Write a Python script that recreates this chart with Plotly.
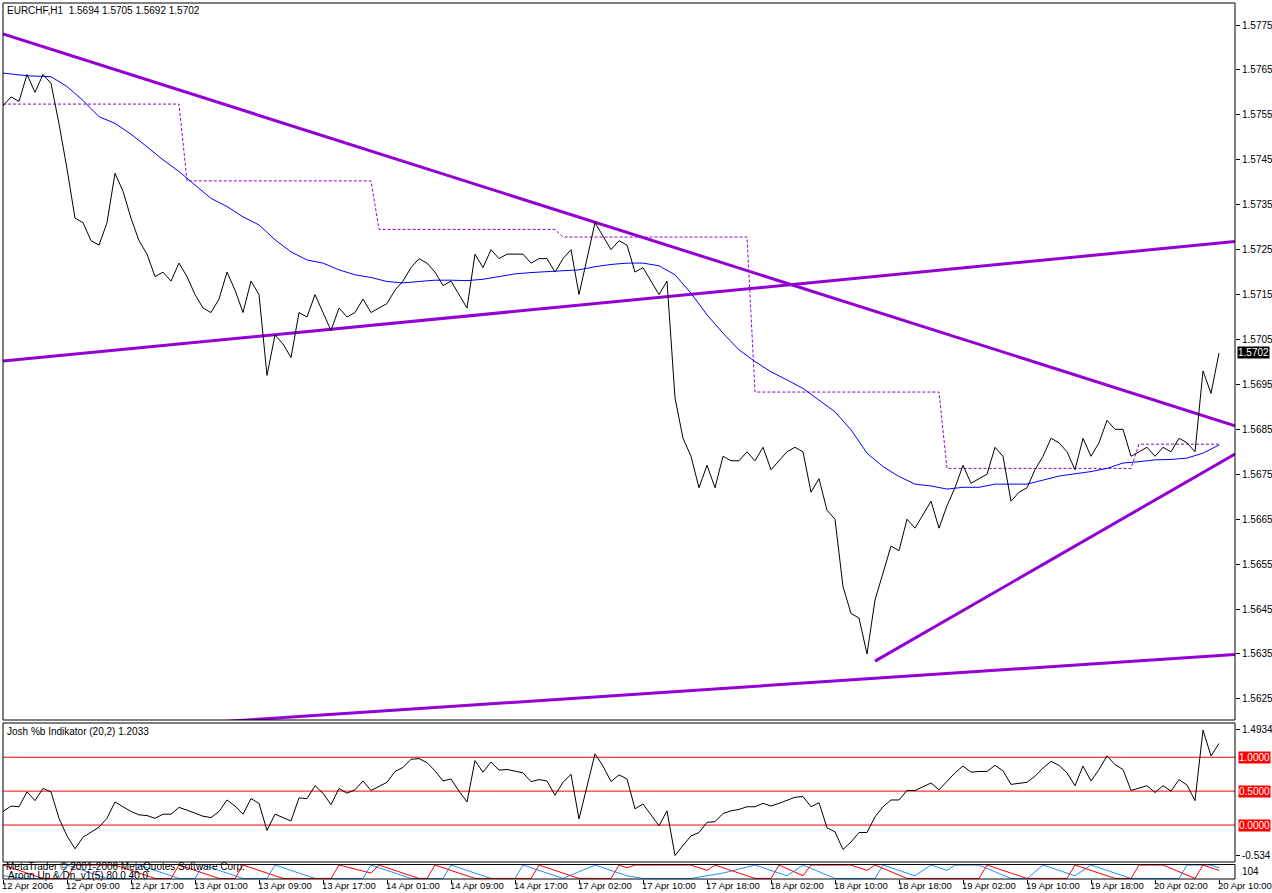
import plotly.graph_objects as go

# ---------------- data ----------------
close = [1.5757, 1.5759, 1.5758, 1.5764, 1.5760, 1.5764, 1.5762, 1.5753, 1.5743, 1.5732,
         1.5731, 1.5727, 1.5726, 1.5731, 1.5742, 1.5738, 1.5732, 1.5727, 1.5724, 1.5719,
         1.5720, 1.5718, 1.5722, 1.5719, 1.5715, 1.5712, 1.5711, 1.5714, 1.5720, 1.5716,
         1.5711, 1.5718, 1.5715, 1.5697, 1.5706, 1.5704, 1.5701, 1.5711, 1.5710, 1.5715,
         1.5711, 1.5707, 1.5712, 1.5710, 1.5711, 1.5714, 1.5711, 1.5712, 1.5713, 1.5716,
         1.5718, 1.5721, 1.5723, 1.5722, 1.5720, 1.5717, 1.5718, 1.5715, 1.5712, 1.5724,
         1.5721, 1.5725, 1.5723, 1.5724, 1.5724, 1.5724, 1.5722, 1.5723, 1.5723, 1.5720,
         1.5723, 1.5725, 1.5715, 1.5723, 1.5731, 1.5728, 1.5725, 1.5727, 1.5726, 1.5720,
         1.5721, 1.5718, 1.5715, 1.5718, 1.5692, 1.5683, 1.5679, 1.5672, 1.5677, 1.5672,
         1.5679, 1.5678, 1.5678, 1.5680, 1.5678, 1.5681, 1.5676, 1.5678, 1.5680, 1.5681,
         1.5680, 1.5671, 1.5674, 1.5667, 1.5665, 1.5650, 1.5644, 1.5643, 1.5635, 1.5647,
         1.5653, 1.5659, 1.5658, 1.5665, 1.5663, 1.5666, 1.5669, 1.5663, 1.5668, 1.5672,
         1.5677, 1.5673, 1.5674, 1.5675, 1.5681, 1.5679, 1.5669, 1.5671, 1.5672, 1.5676,
         1.5679, 1.5683, 1.5682, 1.5680, 1.5676, 1.5683, 1.5679, 1.5682, 1.5687, 1.5685,
         1.5685, 1.5679, 1.5680, 1.5681, 1.5679, 1.5681, 1.5680, 1.5683, 1.5682, 1.5680,
         1.5698, 1.5693, 1.5702]

ma_idx = [0, 3, 6] + list(range(8, 153, 2))
ma_val = [1.57643, 1.57637, 1.57635, 1.57613, 1.57582, 1.57546, 1.57531, 1.57507, 1.57479, 1.57450,
          1.57424, 1.57394, 1.57364, 1.57346, 1.57323, 1.57305, 1.57272, 1.57245, 1.57227, 1.57220,
          1.57205, 1.57194, 1.57188, 1.57179, 1.57176, 1.57179, 1.57182, 1.57182, 1.57181, 1.57184,
          1.57190, 1.57196, 1.57199, 1.57201, 1.57204, 1.57205, 1.57212, 1.57217, 1.57220, 1.57220,
          1.57214, 1.57194, 1.57153, 1.57105, 1.57064, 1.57027, 1.57001, 1.56978, 1.56960, 1.56941,
          1.56915, 1.56889, 1.56849, 1.56797, 1.56767, 1.56745, 1.56728, 1.56724, 1.56717, 1.56721,
          1.56721, 1.56728, 1.56728, 1.56728, 1.56737, 1.56746, 1.56751, 1.56756, 1.56763, 1.56775,
          1.56778, 1.56782, 1.56783, 1.56786, 1.56797, 1.56815]

level_start = [0, 23, 47, 70, 94, 118, 142]
level_end = [22, 46, 69, 93, 117, 141, 152]
level_val = [1.57574, 1.57403, 1.57295, 1.57278, 1.56933, 1.56763, 1.56817]

trend_x = [[0, 154], [0, 154], [0, 154], [109, 154]]
trend_y = [[1.57730, 1.56858], [1.57002, 1.57268], [1.56167, 1.56349], [1.56334, 1.56795]]

pctb = [0.20, 0.28, 0.27, 0.49, 0.36, 0.54, 0.49, 0.10, -0.16, -0.35,
        -0.18, -0.11, -0.03, 0.10, 0.34, 0.27, 0.20, 0.15, 0.14, 0.10,
        0.16, 0.16, 0.26, 0.22, 0.17, 0.13, 0.11, 0.20, 0.37, 0.28,
        0.16, 0.39, 0.32, -0.08, 0.16, 0.11, 0.06, 0.40, 0.39, 0.58,
        0.47, 0.30, 0.54, 0.47, 0.52, 0.65, 0.51, 0.57, 0.63, 0.79,
        0.85, 0.97, 0.98, 0.92, 0.80, 0.65, 0.68, 0.50, 0.34, 0.95,
        0.78, 0.93, 0.81, 0.82, 0.79, 0.77, 0.64, 0.67, 0.65, 0.44,
        0.63, 0.75, 0.09, 0.57, 1.05, 0.87, 0.64, 0.74, 0.68, 0.24,
        0.31, 0.15, -0.01, 0.21, -0.45, -0.30, -0.16, -0.11, 0.04, 0.05,
        0.17, 0.21, 0.23, 0.27, 0.27, 0.32, 0.28, 0.32, 0.37, 0.41,
        0.42, 0.27, 0.33, -0.04, -0.10, -0.36, -0.25, -0.11, -0.11, 0.12,
        0.27, 0.37, 0.37, 0.51, 0.51, 0.57, 0.62, 0.52, 0.64, 0.77,
        0.87, 0.78, 0.79, 0.79, 0.88, 0.80, 0.60, 0.62, 0.63, 0.72,
        0.84, 0.94, 0.88, 0.77, 0.58, 0.87, 0.65, 0.82, 1.02, 0.89,
        0.82, 0.51, 0.54, 0.58, 0.48, 0.58, 0.50, 0.67, 0.59, 0.36,
        1.40, 1.02, 1.2033]
pctb_levels = [1.0, 0.5, 0.0]
pctb_level_text = ["1.0000", "0.5000", "0.0000"]

aroon_dn_x = [0, 5, 8, 9, 14, 19, 21, 22, 27, 29, 30, 35, 41, 42, 46, 47, 52, 53, 54, 59, 66, 67, 72, 76,
              77, 78, 79, 86, 88, 89, 94, 96, 97, 100, 101, 106, 108, 109, 113, 122, 123, 128, 133,
              134, 139, 141, 142, 145, 149, 150, 152]
aroon_dn_y = [100, 0, 0, 100, 100, 0, 0, 100, 0, 0, 100, 0, 0, 100, 40, 100, 0, 0, 100, 0, 0, 100, 0, 0,
              100, 80, 100, 100, 60, 100, 0, 0, 100, 20, 100, 100, 60, 100, 0, 0, 100, 0, 0,
              100, 0, 0, 100, 100, 0, 100, 60]
aroon_up_x = [0, 3, 7, 8, 13, 16, 17, 22, 24, 25, 30, 33, 34, 39, 45, 46, 51, 55, 56, 61, 64, 65, 70, 74,
              78, 80, 86, 88, 90, 94, 98, 100, 104, 109, 110, 114, 116, 118, 119, 122, 126, 128, 130,
              134, 136, 139, 141, 147, 148, 151, 152]
aroon_up_y = [20, 0, 0, 100, 0, 0, 100, 0, 0, 100, 0, 0, 100, 0, 0, 100, 0, 0, 100, 0, 0, 100, 0, 100,
              20, 0, 0, 20, 40, 100, 20, 100, 0, 0, 100, 20, 100, 60, 100, 100, 0, 0, 100,
              20, 100, 40, 0, 0, 100, 100, 80]

price_ticks = [1.5625, 1.5635, 1.5645, 1.5655, 1.5665, 1.5675, 1.5685, 1.5695, 1.5705, 1.5715,
               1.5725, 1.5735, 1.5745, 1.5755, 1.5765, 1.5775]
time_labels = ["12 Apr 2006", "12 Apr 09:00", "12 Apr 17:00", "13 Apr 01:00", "13 Apr 09:00",
               "13 Apr 17:00", "14 Apr 01:00", "14 Apr 09:00", "14 Apr 17:00", "17 Apr 02:00",
               "17 Apr 10:00", "17 Apr 18:00", "18 Apr 02:00", "18 Apr 10:00", "18 Apr 18:00",
               "19 Apr 02:00", "19 Apr 10:00", "19 Apr 18:00", "20 Apr 02:00", "20 Apr 10:00"]
time_label_bars = list(range(0, 153, 8))

title_text = "EURCHF,H1  1.5694 1.5705 1.5692 1.5702"
ind_title = "Josh %b Indikator (20,2) 1.2033"
aroon_title = "Aroon Up & Dn_v1(5) 80.0 40.0"
copyright_text = "MetaTrader © 2001-2006 MetaQuotes Software Corp."
last_price = 1.5702

# ---------------- figure ----------------
W, H = 1272, 893
FONT = "Liberation Sans, Arial, sans-serif"
VIOLET = "#9400D3"


def px(v):
    return v / W


def py(v):
    return 1 - v / H


bars = list(range(len(close)))
level_series = []
for i in bars:
    for s, e, v in zip(level_start, level_end, level_val):
        if s <= i <= e:
            level_series.append(v)
            break

fig = go.Figure()
for tx, ty in zip(trend_x, trend_y):
    fig.add_trace(go.Scatter(x=tx, y=ty, mode="lines", line=dict(color=VIOLET, width=3),
                             xaxis="x", yaxis="y", hoverinfo="skip"))
fig.add_trace(go.Scatter(x=bars, y=level_series, mode="lines",
                         line=dict(color=VIOLET, width=1, dash="3px,2px"), xaxis="x", yaxis="y"))
fig.add_trace(go.Scatter(x=ma_idx, y=ma_val, mode="lines", line=dict(color="#0000FF", width=1),
                         xaxis="x", yaxis="y"))
fig.add_trace(go.Scatter(x=bars, y=close, mode="lines", line=dict(color="#000000", width=1),
                         xaxis="x", yaxis="y"))

fig.add_trace(go.Scatter(x=bars, y=pctb, mode="lines", line=dict(color="#000000", width=1),
                         xaxis="x2", yaxis="y2"))

fig.add_trace(go.Scatter(x=aroon_up_x, y=aroon_up_y, mode="lines", line=dict(color="#1E90FF", width=1),
                         xaxis="x3", yaxis="y3"))
fig.add_trace(go.Scatter(x=aroon_dn_x, y=aroon_dn_y, mode="lines", line=dict(color="#FF0000", width=1),
                         xaxis="x3", yaxis="y3"))

XDOM = [px(3), px(1235)]
XR = [0, 154]
axis_common = dict(showgrid=False, zeroline=False, showline=False)
tickfont = dict(family=FONT, size=10, color="black")

fig.update_layout(
    width=W, height=H, margin=dict(l=0, r=0, t=0, b=0), autosize=False,
    paper_bgcolor="white", plot_bgcolor="white", showlegend=False,
    xaxis=dict(domain=XDOM, range=XR, anchor="y", showticklabels=False, ticks="", **axis_common),
    yaxis=dict(domain=[py(720), py(3)], range=[1.56203, 1.57799], anchor="x", side="right",
               tickvals=price_ticks, ticktext=["%.4f" % t for t in price_ticks],
               ticks="outside", ticklen=4, tickcolor="black", tickfont=tickfont, **axis_common),
    xaxis2=dict(domain=XDOM, range=XR, anchor="y2", showticklabels=False, ticks="", **axis_common),
    yaxis2=dict(domain=[py(862), py(723)], range=[-0.545, 1.505], anchor="x2", side="right",
                tickvals=[1.416, -0.456], ticktext=["1.4934", "-0.534"],
                ticks="outside", ticklen=4, tickcolor="black", tickfont=tickfont, **axis_common),
    xaxis3=dict(domain=XDOM, range=XR, anchor="y3", showticklabels=False,
                tickvals=time_label_bars, ticks="outside", ticklen=4, tickcolor="black", **axis_common),
    yaxis3=dict(domain=[py(879), py(864.5)], range=[-4, 104], anchor="x3", side="right",
                showticklabels=False, ticks="", **axis_common),
)

shapes = []
for (y0, y1) in [(3, 720), (723, 862), (864.5, 879)]:
    shapes.append(dict(type="rect", xref="paper", yref="paper", x0=px(3), x1=px(1235),
                       y0=py(y1), y1=py(y0), line=dict(color="black", width=1), layer="above"))
for lv in pctb_levels:
    shapes.append(dict(type="line", xref="paper", yref="y2", x0=px(3), x1=px(1235), y0=lv, y1=lv,
                       line=dict(color="#FF0000", width=1), layer="below"))
fig.update_layout(shapes=shapes)

ann = []
ann.append(dict(text=title_text, xref="paper", yref="paper", x=px(5), y=py(3), xanchor="left",
                yanchor="top", showarrow=False, font=dict(family=FONT, size=10, color="black")))
ann.append(dict(text=ind_title, xref="paper", yref="paper", x=px(5), y=py(724), xanchor="left",
                yanchor="top", showarrow=False, font=dict(family=FONT, size=10, color="black")))
ann.append(dict(text=copyright_text, xref="paper", yref="paper", x=px(4), y=py(859), xanchor="left",
                yanchor="top", showarrow=False, font=dict(family=FONT, size=10, color="black")))
ann.append(dict(text=aroon_title, xref="paper", yref="paper", x=px(6), y=py(868), xanchor="left",
                yanchor="top", showarrow=False, font=dict(family=FONT, size=10, color="black")))
ann.append(dict(text="104", xref="paper", yref="paper", x=px(1240), y=py(871.5), xanchor="left",
                yanchor="middle", showarrow=False, font=dict(family=FONT, size=10, color="black")))
ann.append(dict(text="%.4f" % last_price, xref="paper", yref="y", x=px(1237), y=last_price,
                xanchor="left", yanchor="middle", showarrow=False, bgcolor="black", borderpad=0,
                font=dict(family=FONT, size=10, color="white")))
for lv, lt in zip(pctb_levels, pctb_level_text):
    ann.append(dict(text=lt, xref="paper", yref="y2", x=px(1238), y=lv, xanchor="left",
                    yanchor="middle", showarrow=False, bgcolor="#FF0000", borderpad=0,
                    font=dict(family=FONT, size=10, color="white")))
for b, t in zip(time_label_bars, time_labels):
    ann.append(dict(text=t, xref="x3", yref="paper", x=b, y=py(879), xanchor="left", yanchor="top",
                    showarrow=False, borderpad=0, xshift=-2,
                    font=dict(family=FONT, size=9.5, color="black")))
fig.update_layout(annotations=ann)

fig.write_html(
    "out.html",
    config={"displayModeBar": False, "staticPlot": True},
    post_script="document.body.style.margin='0';document.body.style.padding='0';"
                "document.documentElement.style.overflow='hidden';",
)
